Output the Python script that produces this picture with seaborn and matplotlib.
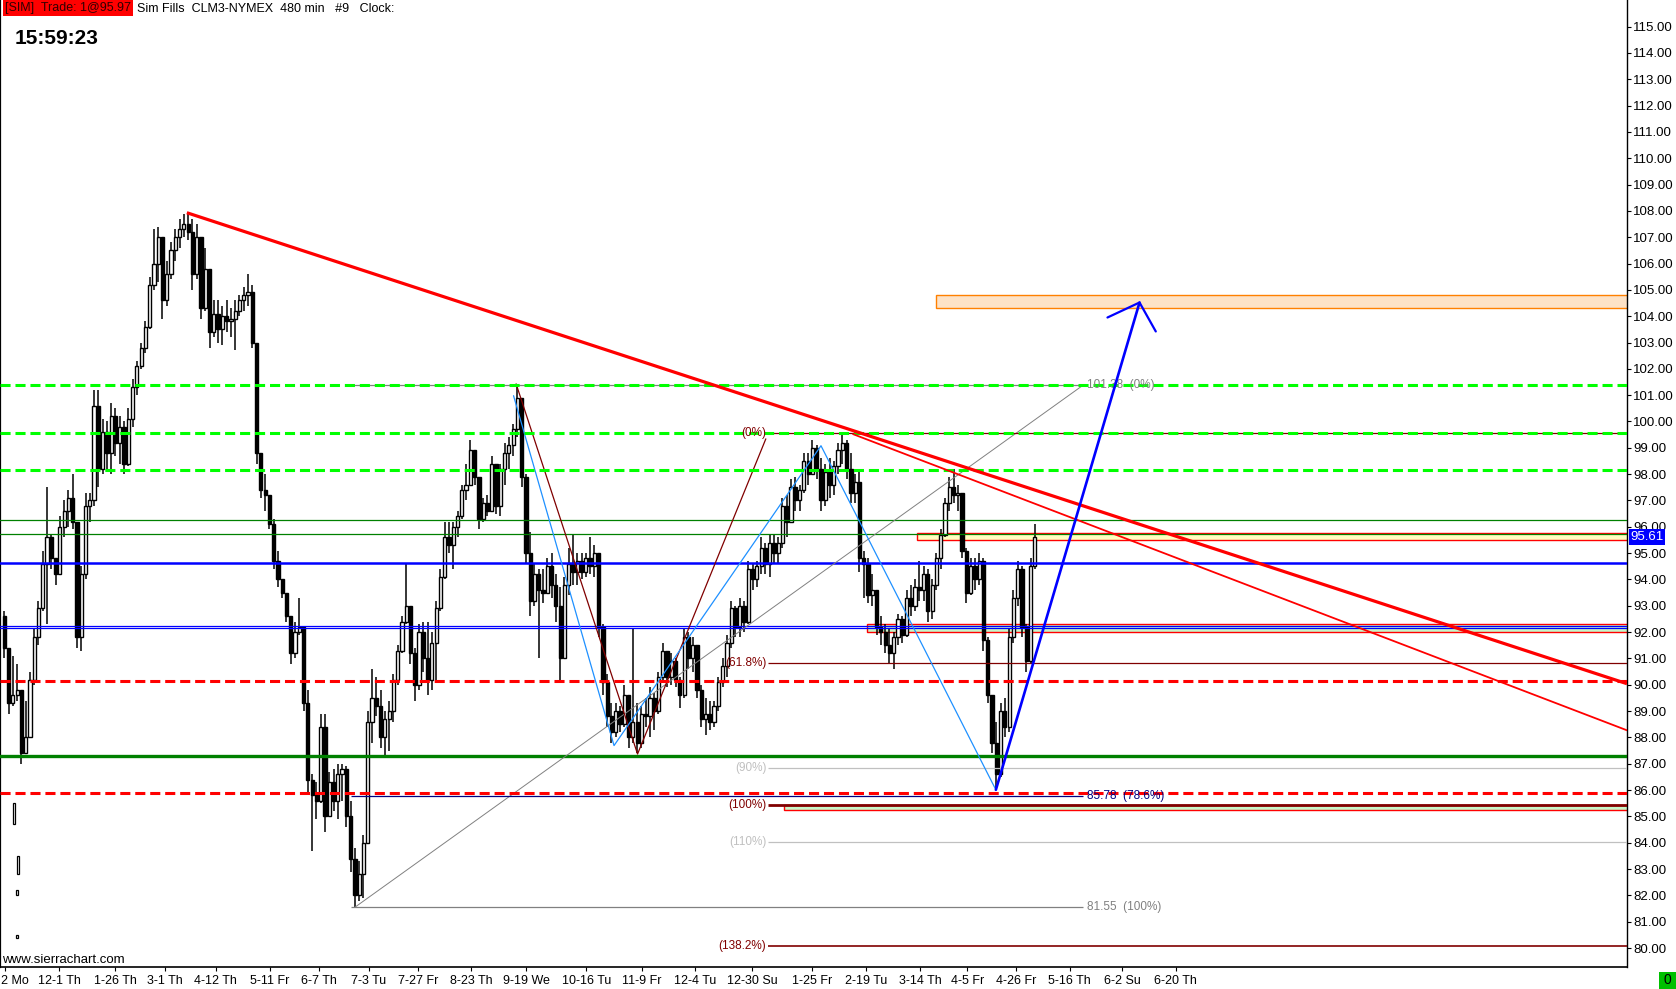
import numpy as np
import pandas as pd
import seaborn as sns
import matplotlib
matplotlib.use("Agg")
import matplotlib.pyplot as plt
from matplotlib.patches import Rectangle

# ---- price bars (480 min) ----
highs = [92.8, 91.2, 91.1, 90.8, 88.6, 89.4, 90.5, 92.1, 93.2, 95.1,
         97.5, 95.7, 94.6, 96.4, 97.0, 97.4, 98.0, 96.0, 94.5, 97.3,
         97.3, 101.2, 101.2, 100.1, 100.0, 100.7, 100.5, 100.2, 100.0, 100.5,
         101.6, 102.3, 103.0, 103.8, 105.5, 107.3, 107.4, 107.0, 106.1, 106.8,
         107.3, 107.7, 107.9, 107.9, 107.7, 107.5, 107.0, 106.6, 105.8, 104.6,
         104.6, 104.4, 104.6, 104.3, 104.6, 104.8, 105.1, 105.6, 105.2, 102.3,
         98.6, 98.0, 97.0, 96.3, 95.1, 94.0, 93.4, 92.6, 92.4, 93.3,
         92.2, 89.8, 86.6, 86.3, 88.9, 88.9, 86.7, 86.8, 87.0, 87.0,
         86.9, 85.6, 83.8, 83.3, 84.3, 89.0, 90.6, 90.3, 89.8, 89.0,
         89.4, 90.4, 91.5, 92.6, 94.6, 93.0, 91.4, 92.3, 92.4, 92.4,
         92.0, 93.2, 94.4, 96.2, 96.2, 96.2, 96.6, 97.6, 98.4, 99.3,
         98.8, 97.8, 97.1, 97.2, 98.7, 98.4, 98.4, 99.2, 99.4, 99.9,
         101.38, 100.7, 98.0, 95.8, 94.6, 94.4, 94.4, 94.8, 95.0, 94.2,
         93.7, 94.1, 95.2, 95.7, 95.0, 95.0, 95.0, 95.6, 95.3, 95.0,
         92.3, 90.4, 89.3, 89.3, 89.2, 90.0, 89.6, 92.1, 89.3, 89.2,
         89.5, 89.9, 89.7, 90.5, 91.6, 91.2, 91.2, 91.0, 90.3, 92.1,
         92.0, 91.8, 91.5, 90.0, 89.5, 89.4, 89.4, 90.3, 91.0, 91.9,
         93.2, 93.0, 93.3, 93.2, 94.7, 94.6, 94.7, 95.6, 95.4, 95.7,
         95.7, 95.6, 97.1, 97.2, 97.8, 97.9, 97.6, 98.8, 98.8, 99.3,
         99.1, 98.6, 98.4, 98.6, 98.5, 99.2, 99.55, 99.3, 98.8, 98.0,
         98.1, 95.1, 94.8, 94.2, 93.4, 92.6, 92.3, 92.1, 92.0, 92.7,
         92.6, 93.6, 93.8, 94.0, 94.7, 94.5, 94.4, 94.0, 95.0, 95.9,
         97.1, 97.9, 98.2, 97.6, 97.3, 95.2, 94.8, 94.8, 95.0, 94.8,
         91.8, 89.6, 88.6, 89.3, 89.5, 92.1, 93.6, 94.7, 94.5, 92.3,
         94.8, 96.1]
lows = [91.0, 88.9, 89.2, 89.4, 87.0, 87.4, 88.0, 90.0, 91.5, 92.8,
        92.3, 94.4, 93.8, 94.2, 95.6, 96.0, 95.9, 91.4, 91.3, 94.0,
        96.2, 96.8, 97.5, 98.0, 98.2, 98.0, 98.7, 98.4, 98.0, 98.3,
        99.8, 101.0, 102.0, 102.6, 103.5, 105.0, 105.3, 103.9, 104.4, 105.4,
        106.1, 106.6, 107.0, 106.9, 105.0, 105.4, 103.9, 104.2, 102.8, 103.2,
        103.0, 102.9, 103.4, 103.2, 102.7, 104.0, 104.2, 104.4, 102.8, 98.4,
        97.1, 96.6, 95.9, 94.4, 93.7, 93.3, 92.4, 90.8, 91.0, 91.9,
        89.0, 85.8, 83.7, 84.9, 85.5, 84.4, 85.1, 85.2, 84.9, 85.6,
        84.6, 82.9, 81.55, 81.8, 81.9, 84.0, 87.8, 88.8, 87.6, 87.2,
        87.5, 88.6, 90.0, 91.2, 92.3, 90.8, 89.4, 89.8, 90.5, 89.6,
        89.8, 90.1, 92.8, 94.0, 95.0, 94.4, 95.6, 96.3, 97.0, 97.6,
        97.6, 95.9, 96.2, 96.4, 96.6, 96.5, 96.4, 97.6, 98.2, 98.7,
        99.4, 97.5, 94.6, 92.6, 93.0, 91.0, 93.1, 93.6, 93.3, 92.4,
        90.2, 91.0, 93.4, 93.8, 93.8, 94.0, 94.1, 94.2, 94.1, 91.8,
        89.6, 88.4, 87.8, 88.0, 88.2, 88.4, 87.6, 87.8, 87.4, 87.6,
        88.4, 88.0, 88.3, 88.9, 90.2, 89.9, 90.0, 89.9, 89.1, 89.5,
        90.6, 90.5, 89.5, 88.4, 88.1, 88.3, 88.4, 89.0, 89.9, 90.3,
        91.4, 91.8, 91.8, 92.0, 92.3, 93.6, 93.7, 94.2, 94.2, 94.1,
        94.6, 94.6, 95.2, 95.6, 96.2, 96.6, 96.6, 97.3, 97.6, 98.0,
        97.8, 96.6, 96.8, 97.1, 97.2, 98.0, 98.4, 97.8, 96.9, 96.9,
        94.3, 93.3, 93.1, 93.0, 91.9, 91.5, 91.2, 90.8, 90.6, 91.5,
        91.6, 91.8, 92.6, 92.8, 93.2, 93.2, 92.4, 92.5, 93.6, 94.4,
        95.6, 96.6, 96.9, 96.6, 94.8, 93.1, 93.4, 93.6, 93.8, 91.3,
        89.3, 87.4, 86.0, 86.5, 88.0, 88.2, 91.6, 93.0, 91.8, 90.5,
        90.8, 94.4]
closes = [91.4, 89.3, 89.6, 89.8, 87.4, 88.0, 90.2, 91.8, 92.9, 94.6,
          95.6, 94.8, 94.2, 96.0, 96.6, 97.1, 96.2, 91.8, 94.2, 96.8,
          97.0, 100.6, 98.2, 99.6, 98.8, 100.2, 99.2, 99.8, 98.4, 100.1,
          101.3, 102.1, 102.8, 103.6, 105.2, 106.0, 107.0, 104.6, 105.6, 106.5,
          107.0, 107.3, 107.5, 107.2, 105.6, 107.0, 104.3, 105.8, 103.4, 104.1,
          103.5, 104.0, 103.8, 103.9, 104.2, 104.6, 104.8, 104.9, 103.0, 98.8,
          97.4, 97.2, 96.1, 94.7, 94.0, 93.5, 92.6, 91.2, 92.0, 92.2,
          89.3, 86.4, 85.8, 85.6, 88.4, 85.0, 86.3, 85.6, 86.6, 86.8,
          85.0, 83.4, 82.0, 82.8, 84.0, 88.6, 89.5, 89.2, 88.0, 88.7,
          89.0, 90.2, 91.3, 92.4, 93.0, 91.2, 90.0, 92.0, 91.0, 90.2,
          91.6, 92.9, 94.1, 95.6, 95.3, 96.0, 96.4, 97.4, 97.6, 98.9,
          97.9, 96.3, 96.9, 96.6, 98.4, 96.8, 98.2, 98.8, 99.1, 99.7,
          100.9, 97.9, 95.0, 93.2, 94.2, 93.6, 93.5, 94.5, 93.8, 93.0,
          91.0, 93.8, 94.6, 94.3, 94.7, 94.3, 94.8, 94.5, 95.0, 92.2,
          90.1, 88.8, 88.2, 89.0, 88.5, 89.6, 88.0, 88.6, 87.8, 88.9,
          88.8, 89.5, 89.0, 90.3, 91.3, 90.3, 90.9, 90.2, 89.6, 91.8,
          91.0, 91.5, 89.8, 88.7, 88.9, 88.6, 89.2, 90.1, 90.7, 91.6,
          92.9, 92.2, 93.0, 92.4, 94.4, 94.0, 94.5, 95.2, 94.6, 95.4,
          95.0, 95.4, 96.8, 96.2, 97.5, 97.0, 97.4, 98.5, 98.0, 99.0,
          98.2, 97.0, 98.1, 97.6, 98.3, 98.9, 99.2, 98.2, 97.3, 97.7,
          94.8, 94.6, 93.4, 93.6, 92.2, 92.0, 91.5, 91.2, 91.8, 92.5,
          91.9, 93.3, 93.0, 93.7, 93.6, 94.2, 92.8, 93.8, 94.8, 95.7,
          96.9, 97.5, 97.2, 97.3, 95.1, 93.5, 94.5, 94.0, 94.7, 91.7,
          89.6, 87.8, 86.6, 89.0, 88.4, 91.8, 93.3, 94.4, 92.2, 90.9,
          94.5, 95.61]
first_open = 92.6

# early thin prints of the contract
stray_bar = [2.37, 2.87, 3.0, 3.25]
stray_hi = [85.5, 82.2, 80.5, 83.5]
stray_lo = [84.7, 82.0, 80.4, 82.8]

# ---- x axis labels (bar positions) ----
tick_bars = [0.12, 12.8, 25.9, 37.6, 49.5, 62.1, 73.7, 85.3, 96.8, 109.2,
             122.0, 136.1, 149.1, 161.5, 174.9, 188.9, 201.5, 214.2, 225.2,
             236.6, 249.2, 261.4, 274.0]
tick_labels = ["", "12-1 Th", "1-26 Th", "3-1 Th", "4-12 Th", "5-11 Fr",
               "6-7 Th", "7-3 Tu", "7-27 Fr", "8-23 Th", "9-19 We", "10-16 Tu",
               "11-9 Fr", "12-4 Tu", "12-30 Su", "1-25 Fr", "2-19 Tu", "3-14 Th",
               "4-5 Fr", "4-26 Fr", "5-16 Th", "6-2 Su", "6-20 Th"]
first_label = "2 Mo"   # only the tail of this label shows at the left edge

# ---- horizontal levels ----
green_dashed = [101.40, 99.55, 98.15]
red_dashed = [90.15, 85.89]
green_thin = [96.27, 95.74]
blue_thick = [94.64]
blue_thin = [92.23, 92.15]
dkgreen_thick = [87.31]

# fib retracement 81.55 -> 101.38
fib1_bars = [82.0, 252.3]
fib1_prices = [81.55, 101.38]
fib1_levels = [101.38, 85.78, 81.55]
fib1_text = ["101.38  (0%)", "85.78  (78.6%)", "81.55  (100%)"]

# fib extension (dark red ABC)
fib2_start = 178.6
fib2_levels = [99.55, 90.82, 86.83, 85.44, 84.03, 80.08]
fib2_text = ["(0%)", "(61.8%)", "(90%)", "(100%)", "(110%)", "(138.2%)"]

abc_bars = [119.7, 148.1, 178.1]
abc_prices = [101.43, 87.37, 99.34]
abcd_bars = [119.1, 142.6, 191.0, 231.9]
abcd_prices = [100.98, 87.69, 99.08, 86.01]

trend_bars = [42.7, 379.5]
trend_prices = [107.93, 90.04]
trend2_bars = [198.5, 379.5]
trend2_prices = [99.52, 88.27]

proj_bars = [231.9, 265.5]
proj_prices = [86.01, 104.52]
head_bars = [258.0, 265.5, 269.3]
head_prices = [103.95, 104.52, 103.42]

# zones: (start bar, low, high)
zone_orange = (218.0, 104.32, 104.81)
zone_yellow = (213.5, 95.50, 95.77)
zone_green1 = (201.8, 91.99, 92.31)
zone_green2 = (182.3, 85.25, 85.45)

last_price = 95.61

# ---------------------------------------------------------------
sns.set_theme(style="white")
plt.rcParams['font.family'] = ['Liberation Sans', 'DejaVu Sans']

W, H = 1676, 989
fig = plt.figure(figsize=(W / 100, H / 100), dpi=100)
ax = fig.add_axes([0, 22 / H, 1627 / W, 967 / H])
XMAX = 379.5
ax.set_xlim(-1, XMAX)
ax.set_ylim(79.28, 116.01)
ax.set_facecolor("white")

df = pd.DataFrame({"high": highs, "low": lows, "close": closes})
df["open"] = [first_open] + closes[:-1]
df["bar"] = np.arange(len(df))
df["bot"] = df[["open", "close"]].min(axis=1)
df["size"] = (df["close"] - df["open"]).abs().clip(lower=0.06)
up = df["close"] >= df["open"]

ax.vlines(df["bar"], df["low"], df["high"], color="black", lw=1.1, zorder=3)
ax.bar(df["bar"][up], df["size"][up], bottom=df["bot"][up], width=0.75,
       facecolor="white", edgecolor="black", lw=1.0, zorder=4)
ax.bar(df["bar"][~up], df["size"][~up], bottom=df["bot"][~up], width=0.75,
       facecolor="black", edgecolor="black", lw=1.0, zorder=4)
ax.bar(stray_bar, np.subtract(stray_hi, stray_lo), bottom=stray_lo, width=0.45,
       facecolor="white", edgecolor="black", lw=0.9, zorder=4)

# zones
for (b0, lo, hi), fc, ec in [(zone_orange, "#fde2c6", "#ff8000"),
                              (zone_yellow, "#ffffc0", "#ff0000"),
                              (zone_green1, "#c8f5c8", "#ff0000"),
                              (zone_green2, "#c8f5c8", "#ff0000")]:
    ax.add_patch(Rectangle((b0, lo), XMAX + 5 - b0, hi - lo, facecolor=fc,
                           edgecolor=ec, lw=1.0, zorder=2))

dash = (0, (3.3, 1.6))
for y in green_dashed:
    ax.axhline(y, color="#00ff00", lw=2.2, ls=dash, zorder=7)
for y in red_dashed:
    ax.axhline(y, color="#ff0000", lw=2.2, ls=dash, zorder=7)
for y in green_thin:
    ax.axhline(y, color="#008000", lw=0.9, zorder=6)
for y in blue_thick:
    ax.axhline(y, color="#0000ff", lw=1.8, zorder=6)
for y in blue_thin:
    ax.axhline(y, color="#0000ff", lw=0.9, zorder=6)
for y in dkgreen_thick:
    ax.axhline(y, color="#008000", lw=2.4, zorder=6)

# fib 1
ax.plot(fib1_bars, fib1_prices, color="#808080", lw=0.7, zorder=6)
fib1_colors = ["#808080", "#000080", "#808080"]
for y, t, c in zip(fib1_levels, fib1_text, fib1_colors):
    ax.hlines(y, fib1_bars[0] - 1, fib1_bars[1], color=c, lw=0.9, zorder=6)
    ax.text(fib1_bars[1] + 0.8, y, t, color=c, fontsize=8.5, ha="left",
            va="center", zorder=8)

# fib 2
fib2_colors = ["#800000", "#800000", "#c0c0c0", "#800000", "#c0c0c0", "#800000"]
fib2_widths = [0.9, 0.9, 0.9, 2.0, 0.9, 1.2]
for y, t, c, w in zip(fib2_levels, fib2_text, fib2_colors, fib2_widths):
    ax.hlines(y, fib2_start, XMAX, color=c, lw=w, zorder=6)
    ax.text(fib2_start - 0.4, y, t, color=c, fontsize=8.5, ha="right",
            va="center", zorder=8)

sns.lineplot(x=abc_bars, y=abc_prices, color="#800000", lw=0.9, sort=False,
             estimator=None, ax=ax, zorder=6)
sns.lineplot(x=abcd_bars, y=abcd_prices, color="#1e90ff", lw=0.9, sort=False,
             estimator=None, ax=ax, zorder=6)

ax.plot(trend_bars, trend_prices, color="#ff0000", lw=2.3, zorder=8,
        solid_capstyle="butt")
ax.plot(trend2_bars, trend2_prices, color="#ff0000", lw=1.3, zorder=8)
ax.plot(proj_bars, proj_prices, color="#0000ff", lw=1.9, zorder=8)
ax.plot(head_bars, head_prices, color="#0000ff", lw=1.6, zorder=8)

# axes styling
ax.spines["top"].set_visible(False)
for s in ["left", "right", "bottom"]:
    ax.spines[s].set_color("black")
ax.spines["left"].set_linewidth(1.6)
ax.spines["right"].set_linewidth(1.0)
ax.spines["bottom"].set_linewidth(1.2)

ax.yaxis.tick_right()
ax.set_yticks(np.arange(80, 116, 1))
ax.set_yticklabels([f"{v:.2f}" for v in np.arange(80, 116, 1)])
ax.tick_params(axis="y", right=True, left=False, labelright=True,
               labelleft=False, length=3, width=0.8, pad=1.5, labelsize=9.5,
               colors="black", direction="out")
ax.set_xticks(tick_bars)
ax.set_xticklabels(tick_labels)
ax.tick_params(axis="x", bottom=True, length=3, width=0.8, pad=3,
               labelsize=9, colors="black", direction="out")
ax.grid(False)

ax.text(1.002, last_price, f"{last_price:.2f}", transform=ax.get_yaxis_transform(),
        color="white", fontsize=9.5, ha="left", va="center", zorder=10,
        bbox=dict(boxstyle="square,pad=0.12", fc="#0000ff", ec="none"),
        clip_on=False)


def fx(px):
    return px / W


def fy(py):
    return 1 - py / H


fig.text(fx(1), fy(981.5), first_label, color="black", fontsize=9,
         ha="left", va="center")
fig.patches.append(Rectangle((fx(3), fy(16)), 130 / W, 16 / H,
                             transform=fig.transFigure, fc="#ff0000", ec="none"))
fig.text(fx(5), fy(8.5), "[SIM]  Trade: 1@95.97", color="#300000", fontsize=9,
         ha="left", va="center")
fig.text(fx(137), fy(8.5), "Sim Fills  CLM3-NYMEX  480 min   #9   Clock:",
         color="black", fontsize=9, ha="left", va="center")
fig.text(fx(15), fy(38.5), "15:59:23", color="black", fontsize=15,
         fontweight="bold", ha="left", va="center")
fig.text(fx(2), fy(960), "www.sierrachart.com", color="black", fontsize=9.5,
         ha="left", va="center")
fig.patches.append(Rectangle((fx(1659), 0), 17 / W, 17 / H,
                             transform=fig.transFigure, fc="#00c000", ec="none"))
fig.text(fx(1667), fy(980.5), "0", color="black", fontsize=10, ha="center",
         va="center")

fig.savefig("out.png", dpi=100)
